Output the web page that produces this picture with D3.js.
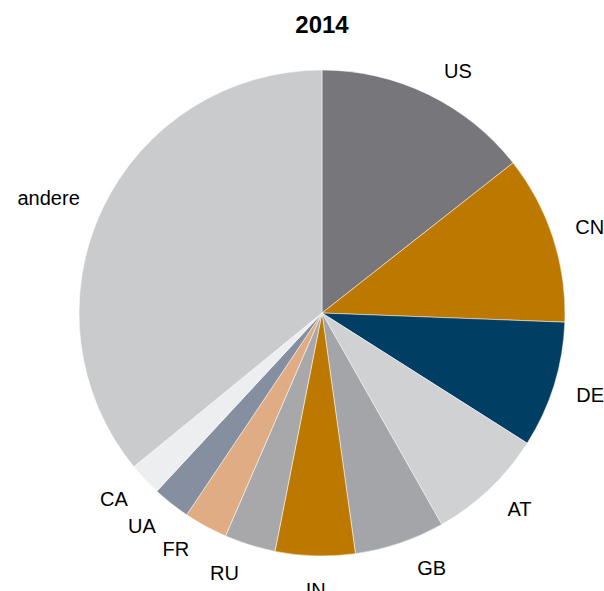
<!DOCTYPE html>
<html><head><meta charset="utf-8">
<script src="https://cdn.jsdelivr.net/npm/d3@7"></script>
<style>body{margin:0;background:#fff}svg{display:block}text{font-family:"Liberation Sans",Arial,sans-serif}</style>
</head><body>
<script>
const title = "2014";
const categories = ["US","CN","DE","AT","GB","IN","RU","FR","UA","CA","andere"];
const values = [14.4, 11.2, 8.4, 7.8, 6.0, 5.3, 3.4, 2.9, 2.5, 2.2, 35.9];
const colors = ["#76767b","#bd7800","#003f63","#d0d1d3","#a4a5a8","#bd7800","#a8a8aa","#e0ac84","#858fa0","#eceef0","#cacbcd"];

const W = 604, H = 591, cx = 322, cy = 313, R = 243, labelR = 267;
// small label angle adjustments (degrees) to mimic the reference's label placement
const labelShift = {US: 3, AT: -1.5, GB: -4.2, IN: -0.3, RU: 3, FR: 2.8, UA: 1.5, CA: 0.9, andere: -1};

const svg = d3.select("body").append("svg").attr("width", W).attr("height", H);
svg.append("text").attr("x", cx).attr("y", 33).attr("text-anchor","middle")
  .attr("font-size", 24).attr("font-weight","bold").text(title);

const data = categories.map((c,i)=>({cat:c, value:values[i], color:colors[i]}));
const pie = d3.pie().value(d=>d.value).sort(null);
const arcs = pie(data);
const arc = d3.arc().innerRadius(0).outerRadius(R);
const g = svg.append("g").attr("transform",`translate(${cx},${cy})`);
g.selectAll("path").data(arcs).join("path").attr("d", arc).attr("fill", d=>d.data.color)
  .attr("stroke","#fff").attr("stroke-width",0.5);

const labels = g.selectAll("text").data(arcs).join("text")
  .attr("text-anchor","middle").attr("dy","0.35em").attr("font-size",20)
  .text(d=>d.data.cat);
labels.each(function(d){
  const bb = this.getBBox();
  const w = bb.width, h = 20;
  const extra = d.data.cat === "andere" ? 2 : 0;
  const a = (d.startAngle + d.endAngle)/2 + (labelShift[d.data.cat]||0)*Math.PI/180;
  const s = Math.sin(a), c = Math.cos(a);
  const x = (labelR+extra)*s + (w/2)*s;
  const y = -(labelR+extra)*c - (h/2)*c;
  d3.select(this).attr("x", x).attr("y", y);
});
</script>
</body></html>
